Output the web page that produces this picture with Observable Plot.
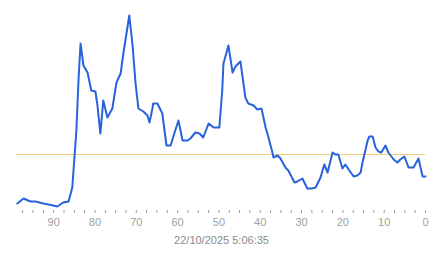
<!DOCTYPE html>
<html>
<head>
<meta charset="utf-8">
<script src="https://cdn.jsdelivr.net/npm/d3@7"></script>
<script src="https://cdn.jsdelivr.net/npm/@observablehq/plot@0.6"></script>
<style>
  html, body { margin: 0; padding: 0; background: #fff; }
  #chart { width: 443px; }
  .caption { width: 443px; text-align: center; font: 11px Arial, "Liberation Sans", sans-serif; color: #8a8a8a; line-height: 16px; }
</style>
</head>
<body>
<div id="chart"></div>
<script>
// x: units before capture time (axis reversed), y: measured value
const xs = [98.8, 97.3, 95.6, 94.4, 92.5, 90.1, 89.1, 87.7, 86.4, 85.5, 85.2, 84.5, 84.0, 83.5, 82.8, 81.8, 80.9, 79.9, 79.4, 78.7, 78.0, 77.0, 75.8, 74.8, 73.8, 73.1, 71.7, 70.9, 70.2, 69.5, 68.3, 67.3, 66.8, 66.1, 65.9, 64.9, 63.7, 62.7, 61.7, 60.8, 59.8, 58.8, 57.6, 56.9, 55.7, 54.7, 53.8, 52.5, 51.3, 49.9, 49.2, 48.9, 47.7, 46.7, 46.0, 44.8, 43.6, 42.9, 41.6, 40.7, 39.7, 38.7, 38.0, 37.0, 36.8, 35.8, 35.1, 33.9, 33.2, 31.7, 31.0, 29.8, 28.6, 27.4, 26.6, 25.4, 24.5, 23.7, 22.5, 21.8, 21.1, 20.1, 19.4, 18.6, 17.4, 16.5, 15.7, 15.3, 14.0, 13.6, 12.8, 12.1, 11.4, 10.7, 9.7, 9.0, 7.7, 6.8, 6.1, 5.1, 4.1, 2.9, 1.7, 0.7, 0];
const values = [3.5, 6, 4.5, 4.5, 3.5, 2.5, 2, 4, 4.5, 11.5, 20, 40, 65, 83.5, 72.5, 69, 60, 59.5, 52.5, 38.5, 55, 46.5, 51, 64, 68.5, 79, 97.5, 82.5, 64, 51, 49.5, 47.5, 44, 51, 53.5, 53.5, 48.5, 32.5, 32.5, 38.5, 45, 35, 35, 36, 39, 38.5, 36.5, 43.5, 41.5, 41.5, 60, 73.5, 82.5, 69, 72, 74.5, 56.5, 53.5, 52.5, 50.5, 51, 41.5, 36.5, 28.5, 26.5, 27.5, 26, 21.5, 20, 14, 14.5, 16, 11, 11, 11.5, 16.5, 23, 19, 29, 28, 28, 21, 23, 20.5, 17, 17.5, 19, 23.5, 35, 37, 37, 31.5, 29.5, 29, 32.5, 29, 25.5, 24, 25.5, 27, 21.5, 21.5, 26, 17, 17];
const threshold = [28];
const majorTicks = [90, 80, 70, 60, 50, 40, 30, 20, 10, 0];
const minorTicks = d3.range(0, 99, 2.5).filter(t => t % 10 !== 0);
const caption = "22/10/2025 5:06:35";

const data = xs.map((x, i) => ({x, y: values[i]}));

const chart = Plot.plot({
  width: 443,
  height: 232,
  marginLeft: 16,
  marginRight: 18,
  marginTop: 10,
  marginBottom: 22,
  style: {fontFamily: "Arial, 'Liberation Sans', sans-serif", fontSize: "11px", background: "#fff"},
  x: {domain: [99, 0]},
  y: {domain: [0, 100]},
  marks: [
    Plot.ruleY(threshold, {stroke: "#f0cd7a", strokeWidth: 1}),
    Plot.line(data, {x: "x", y: "y", stroke: "#2962dc", strokeWidth: 2, curve: "linear"}),
    Plot.axisX(majorTicks, {tickSize: 3, tickPadding: 5, stroke: "#9a9a9a", color: "#a0a0a0", fill: "#a0a0a0", label: null, tickFormat: d => String(d)}),
    Plot.axisX(minorTicks, {tickSize: 3, text: null, stroke: "#9a9a9a", label: null}),
    Plot.axisY({ticks: [], label: null})
  ]
});
document.getElementById("chart").appendChild(chart);
const cap = document.createElement("div");
cap.className = "caption";
cap.textContent = caption;
document.body.appendChild(cap);
</script>
</body>
</html>
